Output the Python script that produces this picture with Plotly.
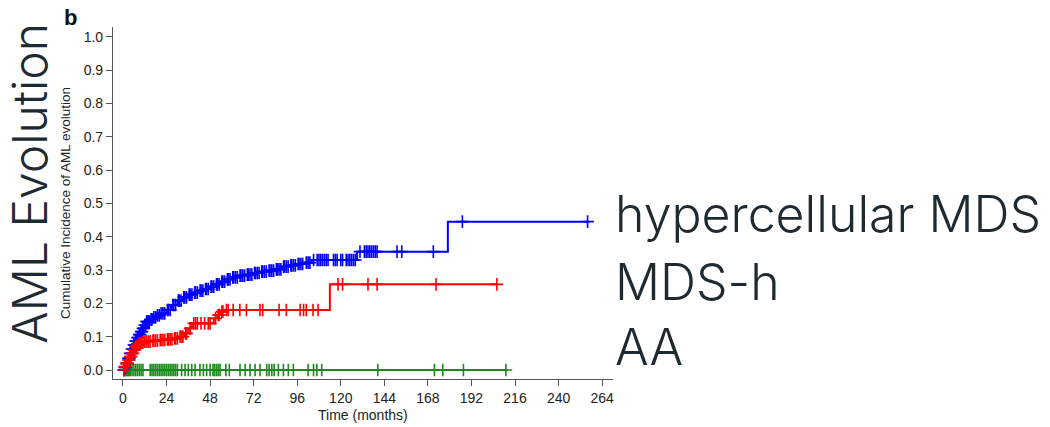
import bisect
import plotly.graph_objects as go

# ---------------- data ----------------
# hypercellular MDS (blue) - step curve (event times, cumulative incidence)
hyper_t = [0, 1, 2, 3, 4, 5, 6, 7, 8, 9, 10, 11, 12, 13, 15, 17, 19, 21, 24, 27, 30, 33, 36, 39,
           42, 45, 48, 51, 54, 57, 60, 64, 68, 72, 76, 80, 84, 88, 92, 96, 100, 104, 129, 179]
hyper_v = [0, 0.008, 0.02, 0.035, 0.05, 0.063, 0.075, 0.087, 0.097, 0.106, 0.115, 0.125, 0.135,
           0.145, 0.152, 0.158, 0.164, 0.17, 0.18, 0.195, 0.208, 0.218, 0.226, 0.232, 0.238, 0.243,
           0.25, 0.257, 0.265, 0.272, 0.278, 0.283, 0.286, 0.291, 0.295, 0.298, 0.302, 0.31, 0.314,
           0.318, 0.322, 0.33, 0.355, 0.445]
hyper_end = 257
hyper_cens = [0.5, 1, 1.5, 2, 2.5, 3, 3.5, 4, 4.5, 5, 5.5, 6, 6.5, 7, 7.5, 8, 8.5, 9, 9.5, 10, 10.5,
              11, 11.5, 12, 12.5, 13, 13.5, 14, 14.5, 15.5, 16, 17, 18, 19, 20, 21, 22, 23, 24.5,
              25, 26, 27.5, 28, 29, 30.5, 31, 32, 33.5, 34, 35, 36.5, 37, 38, 39.5, 40, 41, 42.5,
              43, 44, 45.5, 46, 47, 48.5, 49, 50, 51.5, 52, 53, 54.5, 55, 56, 57.5, 58, 59, 60.5,
              61, 62, 63, 64.5, 65, 66, 67, 68.5, 69, 70, 71, 72.5, 73, 74, 75, 76.5, 77, 78, 79,
              80.5, 81, 82, 83, 84.5, 85, 86, 87, 88.5, 89, 90, 91, 92.5, 93, 94, 95, 96.5, 97, 98,
              99, 101, 102, 103, 105, 107, 108, 109, 110, 111, 112, 113, 116, 117, 118, 120, 121,
              123, 124, 125, 126, 127, 128, 130.6, 133, 134, 135, 136, 137, 138, 139, 140, 151,
              153.6, 171, 187, 256]

# MDS-h (red)
mdsh_t = [0, 1, 2, 3, 4, 5, 6, 7, 8, 9, 10, 12, 16, 20, 24, 28, 31, 34, 36, 38, 50, 52, 54, 56, 114]
mdsh_v = [0, 0.01, 0.02, 0.03, 0.04, 0.05, 0.06, 0.07, 0.075, 0.08, 0.082, 0.085, 0.088, 0.09,
          0.092, 0.095, 0.1, 0.11, 0.125, 0.14, 0.155, 0.165, 0.175, 0.18, 0.257]
mdsh_end = 206.7
mdsh_cens = [0.5, 1, 1.5, 2, 2.5, 3, 3.5, 4, 4.5, 5, 5.5, 6, 6.5, 7, 7.5, 8, 8.5, 9, 9.5, 10.5, 11,
             12, 13, 14, 15, 16.5, 17, 18, 19, 20.5, 21, 22, 23, 24.5, 25, 26, 27, 28.5, 29, 30,
             31.5, 32, 33, 34.5, 35, 37, 39, 40, 41, 43, 45, 47, 48, 51, 52.5, 53, 54.5, 55, 57,
             58, 60.7, 64.4, 68, 75.5, 77, 86, 90, 97.6, 99.5, 101, 104.7, 107.5, 118.5, 121, 135,
             140, 172.5, 206]

# AA (green)
aa_t = [0]
aa_v = [0]
aa_end = 212
aa_cens = [0.5, 1, 1.5, 2, 2.5, 3, 3.5, 4, 5, 6, 7, 8, 9, 10, 11, 15, 16, 17, 18, 19, 20, 21, 22,
           23, 24, 25, 26, 27, 28, 29, 30, 32.3, 34.2, 36, 37.9, 39.7, 42.4, 44.3, 46.1, 48, 49.6,
           50.5, 51.5, 52.5, 53.5, 56.7, 58.6, 64.5, 67.3, 70, 72.8, 75.5, 79.2, 80.5, 82, 83.3,
           85.6, 88.4, 91.1, 93.9, 102, 105, 106.8, 109.5, 140.4, 171.6, 176.2, 187.6, 211]

x_ticks = [0, 24, 48, 72, 96, 120, 144, 168, 192, 216, 240, 264]
y_ticks = [0.0, 0.1, 0.2, 0.3, 0.4, 0.5, 0.6, 0.7, 0.8, 0.9, 1.0]

series = [
    ("AA", aa_t, aa_v, aa_end, aa_cens, "#1a8a1a"),
    ("hypercellular MDS", hyper_t, hyper_v, hyper_end, hyper_cens, "#0000ff"),
    ("MDS-h", mdsh_t, mdsh_v, mdsh_end, mdsh_cens, "#ff0000"),
]

fig = go.Figure()
for name, t, v, end, cens, col in series:
    xs = list(t) + [end]
    ys = list(v) + [v[-1]]
    fig.add_trace(go.Scatter(x=xs, y=ys, mode="lines", line=dict(color=col, width=2, shape="hv"),
                             name=name, showlegend=False, hoverinfo="skip"))
    cy = [v[bisect.bisect_right(t, c) - 1] for c in cens]
    fig.add_trace(go.Scatter(x=cens, y=cy, mode="markers",
                             marker=dict(symbol="cross-thin-open", size=9, color=col,
                                         line=dict(color=col, width=1.6)),
                             name=name + " censored", showlegend=False, hoverinfo="skip"))

axis_font = dict(family="Liberation Sans, Arial, sans-serif", size=14, color="#222222")
fig.update_xaxes(range=[-5.5, 270], tickvals=x_ticks, ticks="outside", ticklen=6,
                 tickcolor="#555555", showline=True, linecolor="#555555", linewidth=1.2,
                 showgrid=False, zeroline=False, tickfont=axis_font)
fig.update_yaxes(range=[-0.027, 1.029], tickvals=y_ticks, tickformat=".1f", ticks="outside",
                 ticklen=6, tickcolor="#555555", showline=True, linecolor="#555555",
                 linewidth=1.2, showgrid=False, zeroline=False, tickfont=axis_font)

ann = []
ann.append(dict(text="Time (months)", x=0.5, y=-0.102, xref="paper", yref="paper",
                xanchor="center", yanchor="middle", showarrow=False,
                font=dict(family="Liberation Sans, Arial, sans-serif", size=14, color="#222222")))
ann.append(dict(text="Cumulative Incidence of AML evolution", x=-0.096, y=0.5, xref="paper",
                yref="paper", xanchor="center", yanchor="middle", textangle=-90, showarrow=False,
                font=dict(family="Liberation Sans, Arial, sans-serif", size=13.5, color="#222222")))
ann.append(dict(text="<b>b</b>", x=-0.086, y=1.026, xref="paper", yref="paper",
                xanchor="center", yanchor="middle", showarrow=False,
                font=dict(family="Liberation Sans, Arial, sans-serif", size=22, color="#111111")))
big_font = dict(family="Inter, Noto Sans, sans-serif", size=50, color="#1f2a30", weight=300)
side_font = dict(family="Inter, Noto Sans, sans-serif", size=48, color="#1f2a30", weight=300)
ann.append(dict(text="AML Evolution", x=-0.166, y=0.555, xref="paper", yref="paper",
                xanchor="center", yanchor="middle", textangle=-90, showarrow=False, font=side_font))
for label, yp in [("hypercellular MDS", 214), ("MDS-h", 282), ("AA", 347)]:
    ann.append(dict(text=label, x=1.0, y=(379 - yp) / 352, xref="paper", yref="paper",
                    xanchor="left", yanchor="middle", showarrow=False, font=big_font))
fig.update_layout(annotations=ann, width=1050, height=427,
                  margin=dict(l=113, r=437, t=27, b=48),
                  paper_bgcolor="white", plot_bgcolor="white")

fig.write_html("out.html")
